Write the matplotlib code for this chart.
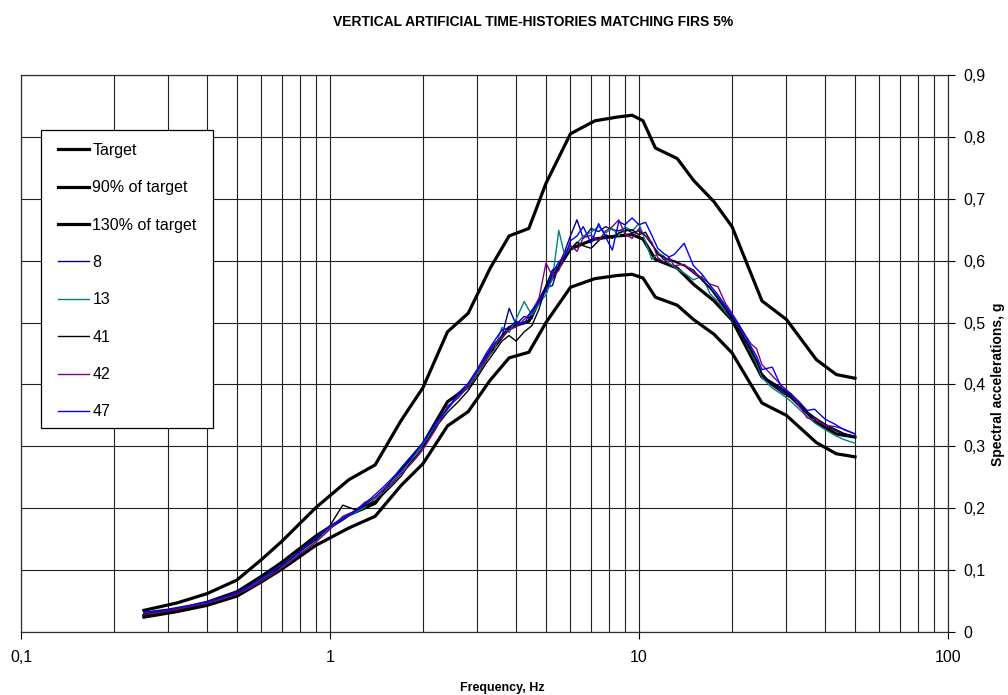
import matplotlib
matplotlib.use("Agg")
import matplotlib.pyplot as plt
from matplotlib.patches import Rectangle

plt.rcParams['font.family'] = ['Liberation Sans', 'DejaVu Sans']

# --- target spectrum and the +/- envelope ---
f_target = [0.25, 0.32, 0.4, 0.5, 0.6, 0.7, 0.9, 1.15, 1.4, 1.7, 2.0, 2.4, 2.8, 3.3,
            3.8, 4.4, 5.0, 6.0, 7.2, 8.5, 9.5, 10.3, 11.3, 13.3, 15, 17.5, 20, 25,
            30, 37.5, 43.5, 50]
target = [0.027, 0.036, 0.048, 0.065, 0.090, 0.113, 0.155, 0.189, 0.208, 0.263, 0.304,
          0.372, 0.396, 0.452, 0.492, 0.502, 0.556, 0.619, 0.635, 0.640, 0.642, 0.635,
          0.602, 0.588, 0.562, 0.535, 0.504, 0.412, 0.388, 0.339, 0.320, 0.315]
low90 = [0.024, 0.033, 0.043, 0.058, 0.081, 0.102, 0.140, 0.168, 0.187, 0.237, 0.272,
         0.333, 0.356, 0.407, 0.443, 0.452, 0.500, 0.557, 0.571, 0.576, 0.578, 0.572,
         0.541, 0.528, 0.505, 0.481, 0.451, 0.370, 0.350, 0.306, 0.288, 0.283]
up130 = [0.035, 0.047, 0.062, 0.084, 0.117, 0.147, 0.201, 0.246, 0.270, 0.342, 0.395,
         0.485, 0.515, 0.588, 0.640, 0.652, 0.725, 0.805, 0.826, 0.832, 0.835, 0.826,
         0.782, 0.765, 0.730, 0.695, 0.655, 0.535, 0.505, 0.440, 0.416, 0.410]

# --- artificial time-history spectra ---
f_th = [0.25, 0.3, 0.35, 0.4, 0.45, 0.5, 0.55, 0.6, 0.65, 0.7, 0.75, 0.8, 0.9, 1.0,
        1.1, 1.2, 1.3, 1.4, 1.5, 1.6, 1.7, 1.8, 1.9, 2.0, 2.2, 2.4, 2.6, 2.8, 3.0,
        3.2, 3.4, 3.6, 3.8, 4.0, 4.25, 4.5, 4.75, 5.0, 5.25, 5.5, 5.75, 6.0, 6.3,
        6.6, 7.0, 7.4, 7.8, 8.2, 8.6, 9.0, 9.5, 10, 10.5, 11, 11.5, 12, 12.5, 13,
        14, 15, 16, 17, 18, 19, 20, 21, 22, 23, 24, 25, 27, 29, 31, 33, 35, 37,
        40, 43, 46, 50]
th8 = [0.031, 0.036, 0.042, 0.048, 0.055, 0.063, 0.074, 0.085, 0.097, 0.107, 0.118,
       0.130, 0.150, 0.168, 0.181, 0.196, 0.206, 0.218, 0.232, 0.246, 0.262, 0.276,
       0.290, 0.303, 0.336, 0.362, 0.382, 0.398, 0.420, 0.446, 0.466, 0.478, 0.523,
       0.497, 0.510, 0.506, 0.535, 0.556, 0.560, 0.593, 0.615, 0.640, 0.666, 0.636,
       0.652, 0.647, 0.655, 0.650, 0.648, 0.652, 0.645, 0.648, 0.640, 0.626, 0.614,
       0.602, 0.604, 0.598, 0.592, 0.580, 0.570, 0.556, 0.541, 0.525, 0.509, 0.494,
       0.475, 0.458, 0.440, 0.418, 0.400, 0.390, 0.379, 0.365, 0.353, 0.344, 0.334,
       0.326, 0.319, 0.315]
th13 = [0.030, 0.035, 0.041, 0.047, 0.054, 0.062, 0.072, 0.086, 0.095, 0.106, 0.118,
        0.127, 0.146, 0.170, 0.184, 0.192, 0.202, 0.216, 0.226, 0.245, 0.258, 0.272,
        0.288, 0.304, 0.333, 0.360, 0.380, 0.396, 0.418, 0.441, 0.455, 0.492, 0.484,
        0.505, 0.534, 0.512, 0.531, 0.545, 0.572, 0.649, 0.608, 0.620, 0.628, 0.640,
        0.646, 0.655, 0.645, 0.652, 0.640, 0.655, 0.648, 0.660, 0.630, 0.602, 0.612,
        0.608, 0.596, 0.590, 0.580, 0.569, 0.575, 0.546, 0.534, 0.518, 0.505, 0.490,
        0.471, 0.452, 0.434, 0.411, 0.394, 0.384, 0.373, 0.360, 0.348, 0.338, 0.327,
        0.318, 0.311, 0.305]
th41 = [0.029, 0.035, 0.041, 0.048, 0.055, 0.062, 0.071, 0.083, 0.094, 0.108, 0.119,
        0.131, 0.149, 0.172, 0.205, 0.198, 0.204, 0.212, 0.224, 0.238, 0.252, 0.270,
        0.284, 0.298, 0.331, 0.355, 0.372, 0.390, 0.412, 0.434, 0.452, 0.470, 0.479,
        0.470, 0.485, 0.495, 0.522, 0.560, 0.585, 0.590, 0.604, 0.618, 0.630, 0.624,
        0.620, 0.632, 0.642, 0.636, 0.645, 0.648, 0.650, 0.642, 0.646, 0.628, 0.610,
        0.606, 0.601, 0.600, 0.592, 0.585, 0.568, 0.555, 0.538, 0.522, 0.506, 0.490,
        0.472, 0.455, 0.438, 0.416, 0.398, 0.387, 0.378, 0.367, 0.356, 0.347, 0.336,
        0.328, 0.321, 0.316]
th42 = [0.028, 0.034, 0.041, 0.047, 0.054, 0.061, 0.071, 0.082, 0.093, 0.104, 0.115,
        0.126, 0.145, 0.166, 0.187, 0.195, 0.210, 0.217, 0.231, 0.241, 0.256, 0.268,
        0.281, 0.295, 0.328, 0.365, 0.378, 0.397, 0.423, 0.440, 0.464, 0.476, 0.488,
        0.493, 0.505, 0.518, 0.540, 0.596, 0.575, 0.584, 0.612, 0.625, 0.615, 0.637,
        0.641, 0.632, 0.648, 0.655, 0.666, 0.643, 0.636, 0.652, 0.640, 0.630, 0.605,
        0.598, 0.605, 0.592, 0.594, 0.582, 0.572, 0.562, 0.558, 0.532, 0.515, 0.498,
        0.481, 0.466, 0.458, 0.432, 0.414, 0.398, 0.385, 0.366, 0.346, 0.343, 0.334,
        0.332, 0.328, 0.320]
th47 = [0.032, 0.037, 0.043, 0.049, 0.056, 0.064, 0.075, 0.087, 0.098, 0.109, 0.120,
        0.130, 0.152, 0.171, 0.183, 0.194, 0.208, 0.222, 0.236, 0.250, 0.264, 0.279,
        0.292, 0.306, 0.338, 0.360, 0.386, 0.402, 0.425, 0.450, 0.470, 0.488, 0.492,
        0.502, 0.498, 0.520, 0.533, 0.552, 0.580, 0.598, 0.606, 0.632, 0.640, 0.655,
        0.628, 0.660, 0.638, 0.617, 0.663, 0.658, 0.669, 0.658, 0.662, 0.641, 0.620,
        0.612, 0.606, 0.610, 0.628, 0.592, 0.578, 0.560, 0.545, 0.528, 0.512, 0.497,
        0.480, 0.462, 0.446, 0.424, 0.428, 0.394, 0.385, 0.372, 0.358, 0.360, 0.344,
        0.336, 0.327, 0.320]

x_ticks = [0.1, 1, 10, 100]
x_labels = ["0,1", "1", "10", "100"]
y_ticks = [0, 0.1, 0.2, 0.3, 0.4, 0.5, 0.6, 0.7, 0.8, 0.9]
y_labels = ["0", "0,1", "0,2", "0,3", "0,4", "0,5", "0,6", "0,7", "0,8", "0,9"]

fig = plt.figure(figsize=(10.08, 6.95), dpi=100)
ax = fig.add_axes([21 / 1008, 63 / 695, 927 / 1008, 557 / 695])
ax.set_xscale('log')
ax.set_xlim(0.1, 100)
ax.set_ylim(0, 0.9)

# grid: every decade and sub-decade line, horizontal lines at 0.1 steps
ax.grid(True, which='major', axis='both', color='#202020', lw=0.8)
ax.grid(True, which='minor', axis='x', color='#202020', lw=0.8)
ax.set_axisbelow(True)

thick = 2.3
ax.plot(f_target, target, color='black', lw=thick, label='Target')
ax.plot(f_target, low90, color='black', lw=thick, label='90% of target')
ax.plot(f_target, up130, color='black', lw=thick, label='130% of target')
ax.plot(f_th, th8, color='#000080', lw=1.0, label='8')
ax.plot(f_th, th13, color='#008080', lw=1.0, label='13')
ax.plot(f_th, th41, color='black', lw=1.0, label='41')
ax.plot(f_th, th42, color='#800080', lw=1.0, label='42')
ax.plot(f_th, th47, color='#0000ff', lw=1.0, label='47')

ax.set_xticks(x_ticks)
ax.set_xticklabels(x_labels)
ax.set_yticks(y_ticks)
ax.set_yticklabels(y_labels)
ax.yaxis.tick_right()
ax.tick_params(axis='both', which='major', direction='out', length=5, width=0.8,
               labelsize=11.5)
ax.tick_params(axis='x', which='minor', length=0)
ax.tick_params(axis='x', pad=8)
ax.tick_params(axis='y', pad=6)
for sp in ax.spines.values():
    sp.set_color('#303030')
    sp.set_linewidth(0.9)

# legend box drawn on its own, legend entries placed inside it
ax.add_patch(Rectangle((0.0216, 0.366), 0.1855, 0.535, transform=ax.transAxes,
                       facecolor='white', edgecolor='black', lw=0.9, zorder=4))
leg = ax.legend(loc='upper left', bbox_to_anchor=(0.0399, 0.878), borderaxespad=0,
                borderpad=0, frameon=False, fontsize=11.5, handlelength=1.95,
                handletextpad=0.2, labelspacing=1.4)
leg.set_zorder(5)

fig.text(533 / 1008, 1 - 22 / 695, "VERTICAL ARTIFICIAL TIME-HISTORIES MATCHING FIRS 5%",
         ha='center', va='center', fontsize=10, fontweight='bold')
fig.text(502 / 1008, 1 - 688 / 695, "Frequency, Hz", ha='center', va='center',
         fontsize=9, fontweight='bold')
fig.text(998 / 1008, 1 - 384 / 695, "Spectral accelerations, g", ha='center',
         va='center', rotation=90, fontsize=10, fontweight='bold')

fig.savefig('out.png', dpi=100)
